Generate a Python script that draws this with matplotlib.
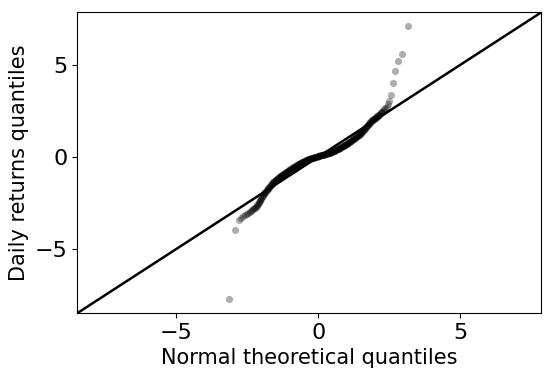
import matplotlib
matplotlib.use("Agg")
import matplotlib.pyplot as plt
import numpy as np

# Lower tail (theoretical quantile, sample quantile)
lower_theo = [-3.13, -2.93, -2.79, -2.71, -2.64, -2.57, -2.51, -2.46, -2.41, -2.37,
              -2.33, -2.29, -2.26, -2.23, -2.20, -2.17, -2.14, -2.12, -2.10, -2.08,
              -2.06, -2.04, -2.02, -2.00]
lower_samp = [-7.74, -3.97, -3.42, -3.30, -3.21, -3.14, -3.08, -3.03, -2.97, -2.93,
              -2.88, -2.84, -2.80, -2.76, -2.72, -2.67, -2.62, -2.57, -2.52, -2.47,
              -2.42, -2.36, -2.30, -2.24]

# Dense central body
body_theo = [-1.98, -1.96, -1.94, -1.92, -1.90, -1.88, -1.86, -1.84, -1.82, -1.80,
             -1.78, -1.76, -1.74, -1.72, -1.70, -1.68, -1.66, -1.64, -1.62, -1.60,
             -1.58, -1.56, -1.54, -1.52, -1.50, -1.48, -1.46, -1.44, -1.42, -1.40,
             -1.38, -1.36, -1.34, -1.32, -1.30, -1.28, -1.26, -1.24, -1.22, -1.20,
             -1.18, -1.16, -1.14, -1.12, -1.10, -1.08, -1.06, -1.04, -1.02, -1.00,
             -0.98, -0.96, -0.94, -0.92, -0.90, -0.88, -0.86, -0.84, -0.82, -0.80,
             -0.78, -0.76, -0.74, -0.72, -0.70, -0.68, -0.66, -0.64, -0.62, -0.60,
             -0.58, -0.56, -0.54, -0.52, -0.50, -0.48, -0.46, -0.44, -0.42, -0.40,
             -0.38, -0.36, -0.34, -0.32, -0.30, -0.28, -0.26, -0.24, -0.22, -0.20,
             -0.18, -0.16, -0.14, -0.12, -0.10, -0.08, -0.06, -0.04, -0.02, 0.00,
             0.02, 0.04, 0.06, 0.08, 0.10, 0.12, 0.14, 0.16, 0.18, 0.20,
             0.22, 0.24, 0.26, 0.28, 0.30, 0.32, 0.34, 0.36, 0.38, 0.40,
             0.42, 0.44, 0.46, 0.48, 0.50, 0.52, 0.54, 0.56, 0.58, 0.60,
             0.62, 0.64, 0.66, 0.68, 0.70, 0.72, 0.74, 0.76, 0.78, 0.80,
             0.82, 0.84, 0.86, 0.88, 0.90, 0.92, 0.94, 0.96, 0.98, 1.00,
             1.02, 1.04, 1.06, 1.08, 1.10, 1.12, 1.14, 1.16, 1.18, 1.20,
             1.22, 1.24, 1.26, 1.28, 1.30, 1.32, 1.34, 1.36, 1.38, 1.40,
             1.42, 1.44, 1.46, 1.48, 1.50, 1.52, 1.54, 1.56, 1.58, 1.60,
             1.62, 1.64, 1.66, 1.68, 1.70, 1.72, 1.74, 1.76, 1.78, 1.80,
             1.82, 1.84, 1.86, 1.88, 1.90, 1.92, 1.94, 1.96, 1.98, 2.00]
body_samp = [-2.15, -2.11, -2.07, -2.03, -1.98, -1.94, -1.90, -1.86, -1.82, -1.78,
             -1.74, -1.70, -1.66, -1.62, -1.58, -1.54, -1.50, -1.47, -1.43, -1.40,
             -1.36, -1.33, -1.30, -1.28, -1.25, -1.23, -1.20, -1.18, -1.15, -1.13,
             -1.11, -1.08, -1.06, -1.04, -1.01, -0.99, -0.97, -0.94, -0.92, -0.90,
             -0.88, -0.86, -0.84, -0.82, -0.79, -0.77, -0.75, -0.73, -0.71, -0.69,
             -0.67, -0.65, -0.63, -0.61, -0.59, -0.57, -0.55, -0.53, -0.51, -0.49,
             -0.47, -0.45, -0.44, -0.42, -0.40, -0.38, -0.36, -0.34, -0.33, -0.31,
             -0.30, -0.28, -0.26, -0.25, -0.23, -0.22, -0.20, -0.18, -0.17, -0.15,
             -0.14, -0.13, -0.12, -0.11, -0.10, -0.09, -0.08, -0.07, -0.06, -0.05,
             -0.04, -0.03, -0.02, -0.01, -0.01, 0.00, 0.01, 0.02, 0.03, 0.04,
             0.05, 0.06, 0.07, 0.08, 0.09, 0.10, 0.10, 0.11, 0.12, 0.13,
             0.14, 0.15, 0.16, 0.17, 0.18, 0.19, 0.20, 0.21, 0.22, 0.23,
             0.24, 0.25, 0.26, 0.27, 0.29, 0.30, 0.32, 0.33, 0.35, 0.36,
             0.38, 0.40, 0.41, 0.43, 0.44, 0.46, 0.47, 0.49, 0.51, 0.53,
             0.54, 0.56, 0.58, 0.60, 0.62, 0.64, 0.66, 0.67, 0.69, 0.71,
             0.73, 0.75, 0.78, 0.80, 0.82, 0.84, 0.86, 0.88, 0.91, 0.93,
             0.95, 0.97, 0.99, 1.02, 1.04, 1.07, 1.09, 1.12, 1.14, 1.16,
             1.19, 1.21, 1.24, 1.26, 1.29, 1.32, 1.36, 1.39, 1.43, 1.46,
             1.50, 1.54, 1.58, 1.61, 1.65, 1.69, 1.72, 1.76, 1.79, 1.83,
             1.86, 1.90, 1.93, 1.97, 1.99, 2.02, 2.04, 2.06, 2.08, 2.10]

# Upper tail
upper_theo = [2.02, 2.04, 2.06, 2.08, 2.10, 2.12, 2.14, 2.17, 2.20, 2.23,
              2.26, 2.29, 2.33, 2.37, 2.41, 2.45, 2.50, 2.57, 2.63, 2.71,
              2.81, 2.94, 3.15]
upper_samp = [2.12, 2.15, 2.18, 2.21, 2.24, 2.27, 2.30, 2.34, 2.38, 2.42,
              2.47, 2.52, 2.58, 2.65, 2.74, 2.88, 3.04, 3.39, 4.02, 4.66,
              5.22, 5.58, 7.14]

theo = lower_theo + body_theo + upper_theo
samp = lower_samp + body_samp + upper_samp

xlim = (-8.5, 7.85)
ylim = (-8.48, 7.88)

fig = plt.figure(figsize=(5.5, 3.77), dpi=100)
ax = fig.add_axes([0.14, 0.1698, 0.8436, 0.7984])
ax.scatter(theo, samp, s=26, color="black", alpha=0.32, linewidths=0, zorder=2)
ax.axline((0, 0), slope=1, color="black", linewidth=1.8, zorder=3)
ax.set_xlim(*xlim)
ax.set_ylim(*ylim)
ax.set_xticks([-5, 0, 5])
ax.set_yticks([-5, 0, 5])
ax.tick_params(labelsize=16)
ax.set_xlabel("Normal theoretical quantiles", fontsize=15)
ax.set_ylabel("Daily returns quantiles", fontsize=15)
fig.savefig("out.png", dpi=100)
